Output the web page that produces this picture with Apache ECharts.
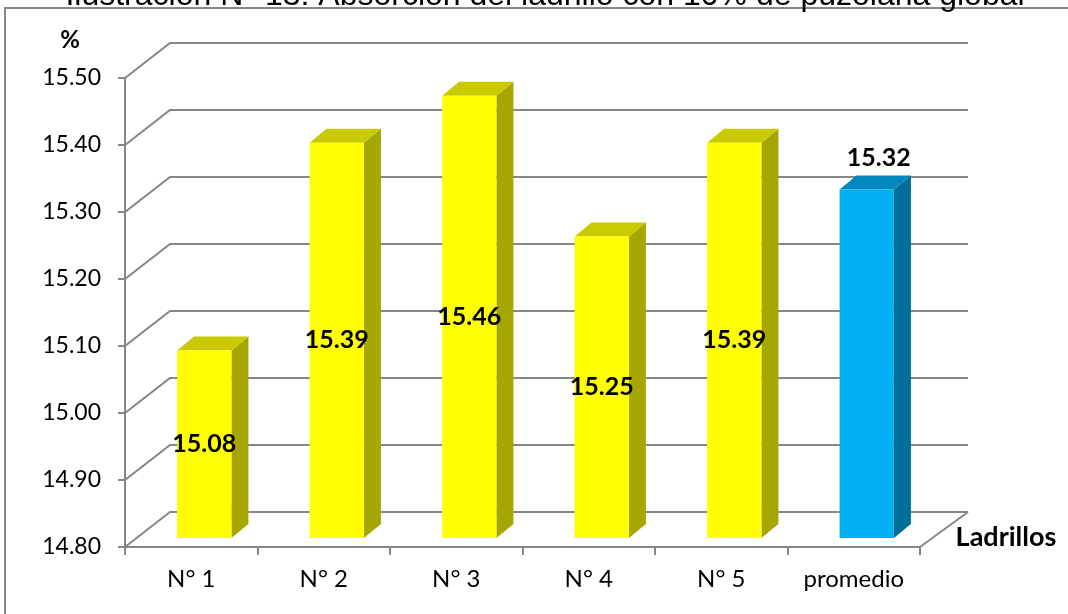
<!DOCTYPE html>
<html><head><meta charset="utf-8">
<script src="https://cdn.jsdelivr.net/npm/echarts@6/dist/echarts.min.js"></script>
<style>html,body{margin:0;padding:0;background:#fff}#c{width:1068px;height:614px}</style>
</head><body><div id="c"></div>
<script>
// ---- data ----
const categories = ['N° 1', 'N° 2', 'N° 3', 'N° 4', 'N° 5', 'promedio'];
const values = [15.08, 15.39, 15.46, 15.25, 15.39, 15.32];
const yTicks = [14.8, 14.9, 15.0, 15.1, 15.2, 15.3, 15.4, 15.5];
const yMin = 14.8, yMax = 15.5, yStep = 0.1;
const titleText = 'Ilustración N° 13: Absorción del ladrillo con 10% de puzolana global';
const yName = '%';
const xName = 'Ladrillos';
const highlightCategory = 'promedio';

// ---- style ----
const FONT = 'Lato, "Open Sans", sans-serif';
const GRID_COLOR = '#868686';
const WALL_DX = 45, WALL_DY = -35;     // back wall offset
const BAR_DX = 13, BAR_DY = -9;        // bar front-plane offset
const BAR_DEPTH_X = 17, BAR_DEPTH_Y = -14;
const yellow = { front: '#FFFF00', top: '#CACA00', side: '#A6A600' };
const blue = { front: '#00B0F0', top: '#0088BC', side: '#006F98' };

const chart = echarts.init(document.getElementById('c'));

function wallItem(params, api) {
  const cs = params.coordSys;
  const v = api.value(1);
  const y = api.coord([0, v])[1];
  const x0 = cs.x, x1 = cs.x + cs.width;
  const children = [{
    type: 'polyline',
    shape: { points: [[x0, y], [x0 + WALL_DX, y + WALL_DY], [x1 + WALL_DX + 3, y + WALL_DY]] },
    style: { stroke: GRID_COLOR, lineWidth: 2, fill: null }
  }];
  if (v === yMin) {
    children.push({
      type: 'line',
      shape: { x1: x1, y1: y, x2: x1 + WALL_DX + 3, y2: y + WALL_DY },
      style: { stroke: GRID_COLOR, lineWidth: 2 }
    });
  }
  return { type: 'group', children };
}

function barItem(params, api) {
  const i = api.value(0);
  const v = api.value(1);
  const top = api.coord([i, v]);
  const base = api.coord([i, yMin]);
  const bw = api.size([1, 0])[0] * 0.41;
  const cx = top[0] + BAR_DX;
  const xl = cx - bw / 2, xr = cx + bw / 2;
  const yt = top[1] + BAR_DY, yb = base[1] + BAR_DY;
  const c = categories[i] === highlightCategory ? blue : yellow;
  const inside = categories[i] !== highlightCategory;
  return {
    type: 'group',
    children: [
      { type: 'polygon', shape: { points: [[xr, yt], [xr + BAR_DEPTH_X, yt + BAR_DEPTH_Y], [xr + BAR_DEPTH_X, yb + BAR_DEPTH_Y], [xr, yb]] }, style: { fill: c.side } },
      { type: 'polygon', shape: { points: [[xl, yt], [xr, yt], [xr + BAR_DEPTH_X, yt + BAR_DEPTH_Y], [xl + BAR_DEPTH_X, yt + BAR_DEPTH_Y]] }, style: { fill: c.top } },
      { type: 'rect', shape: { x: xl, y: yt, width: bw, height: yb - yt }, style: { fill: c.front } },
      { type: 'text', x: inside ? cx : cx + 12, y: inside ? (yt + yb) / 2 : yt - 32,
        style: { text: v.toFixed(2), font: 'bold 25px ' + FONT, fill: '#000', align: 'center', verticalAlign: 'middle' } }
    ]
  };
}

chart.setOption({
  animation: false,
  backgroundColor: '#fff',
  grid: { left: 125, right: 148, top: 78, bottom: 67, containLabel: false },
  xAxis: {
    type: 'category', data: categories, boundaryGap: true,
    axisLine: { show: true, lineStyle: { color: GRID_COLOR, width: 2 } },
    axisTick: { show: true, length: 8, lineStyle: { color: GRID_COLOR, width: 2 } },
    axisLabel: { color: '#000', fontSize: 24, fontFamily: FONT, margin: 20 },
    splitLine: { show: false }
  },
  yAxis: {
    type: 'value', min: yMin, max: yMax, interval: yStep,
    axisLine: { show: true, lineStyle: { color: GRID_COLOR, width: 2 } },
    axisTick: { show: true, length: 7, lineStyle: { color: GRID_COLOR, width: 2 } },
    axisLabel: { color: '#000', fontSize: 23, fontFamily: FONT, margin: 24, formatter: v => v.toFixed(2) },
    splitLine: { show: false }
  },
  graphic: [
    { type: 'rect', z: 100, shape: { x: 5, y: 8, width: 1200, height: 800 }, style: { fill: null, stroke: '#898989', lineWidth: 2 } },
    { type: 'text', z: 101, x: 545, y: 12, style: { text: titleText, font: '32px "Liberation Sans", Arial, sans-serif', fill: '#000', align: 'center', verticalAlign: 'bottom' } },
    { type: 'text', z: 101, x: 70, y: 40, style: { text: yName, font: 'bold 24px ' + FONT, fill: '#000', align: 'center', verticalAlign: 'middle' } },
    { type: 'text', z: 101, x: 1006, y: 537, style: { text: xName, font: 'bold 27px ' + FONT, fill: '#000', align: 'center', verticalAlign: 'middle' } }
  ],
  series: [
    { type: 'custom', name: 'walls', z: 1, silent: true, renderItem: wallItem,
      data: yTicks.map(t => [0, t]) },
    { type: 'custom', name: 'bars', z: 2, renderItem: barItem,
      data: values.map((v, i) => [i, v]) }
  ]
});
</script>
</body></html>
